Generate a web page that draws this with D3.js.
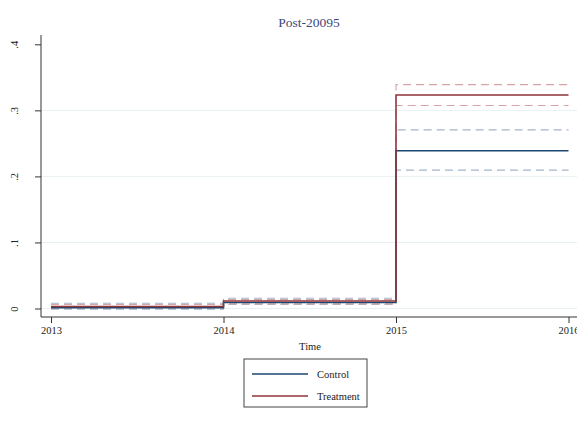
<!DOCTYPE html>
<html>
<head>
<meta charset="utf-8">
<script src="https://cdn.jsdelivr.net/npm/d3@7"></script>
<style>
  body { margin: 0; background: #fff; }
  text { font-family: 'Liberation Serif', 'DejaVu Serif', serif; }
</style>
</head>
<body>
<div id="main"></div>
<script>
var years = [2013, 2014, 2015, 2016]
var yTicks = [0, 0.1, 0.2, 0.3, 0.4]
var yTickLabels = ['0', '.1', '.2', '.3', '.4']
var gridTicks = [0, 0.1, 0.2, 0.3]

// step values, the last one repeats the 2015 level up to 2016
var control = [0.001, 0.009, 0.2387, 0.2387]
var controlLo = [-0.001, 0.006, 0.2095, 0.2095]
var controlHi = [0.008, 0.0155, 0.2705, 0.2705]
var treatment = [0.003, 0.0115, 0.3234, 0.3234]
var treatmentLo = [0.001, 0.007, 0.3074, 0.3074]
var treatmentHi = [0.006, 0.0135, 0.339, 0.339]

var width = 577
var height = 422

var svg = d3.select('#main')
  .append('svg')
  .attr('width', width)
  .attr('height', height)

var x = d3.scaleLinear().domain([2013, 2016]).range([51, 568.5])
var y = d3.scaleLinear().domain([0, 0.4]).range([308.5, 44.3])

var axisX = 41
var axisY = 317

// gridlines
svg.selectAll('line.grid')
  .data(gridTicks)
  .enter()
  .append('line')
    .attr('class', 'grid')
    .attr('x1', axisX)
    .attr('x2', width)
    .attr('y1', d => y(d))
    .attr('y2', d => y(d))
    .attr('stroke', '#e8f0f2')
    .attr('stroke-width', 1)

var line = d3.line()
  .x((d, i) => x(years[i]))
  .y(d => y(d))
  .curve(d3.curveStepAfter)

var series = [
  { v: controlHi, color: '#a3b5c9', dash: '8,5', w: 1.1 },
  { v: controlLo, color: '#a3b5c9', dash: '8,5', w: 1.1 },
  { v: treatmentHi, color: '#d6a3a6', dash: '8,5', w: 1.1 },
  { v: treatmentLo, color: '#d6a3a6', dash: '8,5', w: 1.1 },
  { v: control, color: '#1a476f', dash: null, w: 1.5 },
  { v: treatment, color: '#90353b', dash: null, w: 1.5 }
]

svg.selectAll('path.series')
  .data(series)
  .enter()
  .append('path')
    .attr('class', 'series')
    .attr('d', d => line(d.v))
    .attr('fill', 'none')
    .attr('stroke', d => d.color)
    .attr('stroke-width', d => d.w)
    .attr('stroke-dasharray', d => d.dash)

// y axis
var yAxis = svg.append('g')
  .attr('transform', `translate(${axisX},0)`)
  .call(d3.axisLeft(y).tickValues(yTicks).tickFormat((d, i) => yTickLabels[i]).tickSize(6))
yAxis.select('.domain').attr('d', `M0,35V${axisY}`).attr('stroke', '#333')
yAxis.selectAll('.tick line').attr('stroke', '#333')
yAxis.selectAll('.tick text')
  .attr('x', 0)
  .attr('y', -23)
  .attr('dy', 0)
  .attr('transform', 'rotate(-90)')
  .attr('text-anchor', 'middle')
  .attr('font-size', 10.5)
  .attr('fill', '#222')

// x axis
var xAxis = svg.append('g')
  .attr('transform', `translate(0,${axisY})`)
  .call(d3.axisBottom(x).tickValues(years).tickFormat(d3.format('d')).tickSize(6).tickPadding(4))
xAxis.select('.domain').attr('d', `M${axisX},0H${width}`).attr('stroke', '#333')
xAxis.selectAll('.tick line').attr('stroke', '#333')
xAxis.selectAll('.tick text')
  .attr('font-size', 10.5)
  .attr('fill', '#222')

svg.append('text')
  .text('Time')
  .attr('x', 310)
  .attr('y', 350)
  .attr('text-anchor', 'middle')
  .attr('font-size', 10.5)
  .attr('fill', '#222')

svg.append('text')
  .text('Post-20095')
  .attr('x', 309)
  .attr('y', 27)
  .attr('text-anchor', 'middle')
  .attr('font-size', 13.5)
  .attr('fill', '#3b4a78')

// legend
var legendNames = ['Control', 'Treatment']
var legendColors = ['#1a476f', '#90353b']

svg.append('rect')
  .attr('x', 244)
  .attr('y', 359)
  .attr('width', 123)
  .attr('height', 48)
  .attr('fill', '#fff')
  .attr('stroke', '#444')
  .attr('stroke-width', 1)

var legend = svg.selectAll('g.legend')
  .data(legendNames)
  .enter()
  .append('g')
    .attr('class', 'legend')
    .attr('transform', (d, i) => `translate(252, ${374 + i * 22})`)

legend.append('line')
  .attr('x1', 0)
  .attr('x2', 56)
  .attr('stroke', (d, i) => legendColors[i])
  .attr('stroke-width', 1.5)

legend.append('text')
  .text(d => d)
  .attr('x', 65)
  .attr('y', 3.5)
  .attr('font-size', 10.5)
  .attr('fill', '#222')
</script>
</body>
</html>
